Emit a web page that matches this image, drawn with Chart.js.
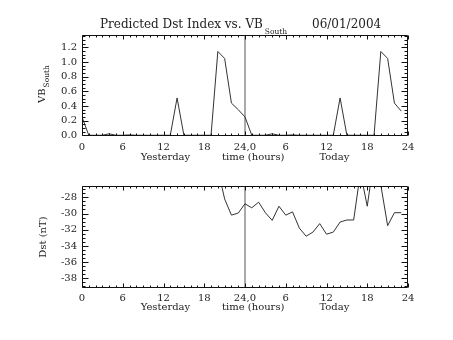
<!DOCTYPE html>
<html><head><meta charset="utf-8">
<script src="https://cdn.jsdelivr.net/npm/chart.js@4"></script>
<style>
html,body{margin:0;padding:0;background:#fff;}
#wrap{position:relative;width:453px;height:340px;overflow:hidden;}
canvas{position:absolute;left:0;}
</style></head><body>
<div id="wrap">
<canvas id="c1" width="453" height="170" style="top:0"></canvas>
<canvas id="c2" width="453" height="170" style="top:170px"></canvas>
</div>
<script>
// ---- data ----
const hours = [0,1,2,3,4,5,6,7,8,9,10,11,12,13,14,15,16,17,18,19,20,21,22,23,
               24,25,26,27,28,29,30,31,32,33,34,35,36,37,38,39,40,41,42,43,44,45,46,47];
const vbSouth = [0.25,0,0,0,0.02,0,0,0.005,0,0,0,0,0,0,0.51,0,0,0,0,0,1.145,1.05,0.44,0.35,
                 0.25,0,0,0,0.02,0,0,0.005,0,0,0,0,0,0,0.51,0,0,0,0,0,1.145,1.05,0.44,0.33];
const dst = [null,null,null,null,null,null,null,null,null,null,null,null,null,null,null,null,null,null,null,null,
             -24.5,-28.2,-30.2,-29.95,
             -28.8,-29.3,-28.6,-29.9,-30.85,-29.1,-30.2,-29.8,-31.8,-32.8,-32.3,-31.25,
             -32.55,-32.3,-31.05,-30.8,-30.8,-24.9,-29.1,-23.2,-26.5,-31.5,-29.9,-29.9];
const xTickValues = [0,6,12,18,24,30,36,42,48];
const xTickLabels = ['0','6','12','18','24,0','6','12','18','24'];
const vbTickValues = [0,0.2,0.4,0.6,0.8,1.0,1.2];
const vbTickLabels = ['0.0','0.2','0.4','0.6','0.8','1.0','1.2'];
const dstTickValues = [-38,-36,-34,-32,-30,-28];
const dstTickLabels = ['-38','-36','-34','-32','-30','-28'];
const markerHour = 24;
const vbRange = [-0.01, 1.37];
const dstRange = [-39.16, -26.64];
const titleMain = 'Predicted Dst Index vs. VB';
const titleSub = 'South';
const titleDate = '06/01/2004';
const xTitle = 'Yesterday          time (hours)           Today';
const vbTitle = 'VB';
const vbTitleSub = 'South';
const dstTitle = 'Dst (nT)';

// ---- styling ----
const FONT = 'DejaVu Serif';
const TXT = '#222';
const LINE = '#333';

function boxTicksPlugin(yMinorStep, yMajor) {
  return {
    id: 'boxTicks',
    afterDatasetsDraw(chart) {
      const {ctx, chartArea: a, scales: {x, y}} = chart;
      const L = Math.round(a.left) + 0.5, R = Math.round(a.right) - 0.5;
      const T = Math.round(a.top) + 0.5, B = Math.round(a.bottom) - 0.5;
      ctx.save();
      ctx.strokeStyle = '#111';
      ctx.lineWidth = 1;
      ctx.beginPath();
      ctx.rect(L, T, R - L, B - T);
      // x ticks, hourly minors, majors at labelled values
      for (let h = x.min; h <= x.max; h += 1) {
        const px = Math.round(x.getPixelForValue(h)) + 0.5;
        const len = xTickValues.includes(h) ? 4 : 2;
        ctx.moveTo(px, B); ctx.lineTo(px, B - len);
        ctx.moveTo(px, T); ctx.lineTo(px, T + len);
      }
      // y ticks
      const first = Math.ceil(y.min / yMinorStep - 1e-6);
      const last = Math.floor(y.max / yMinorStep + 1e-6);
      for (let k = first; k <= last; k++) {
        const v = k * yMinorStep;
        const py = Math.round(y.getPixelForValue(v)) + 0.5;
        const major = Math.abs(v / yMajor - Math.round(v / yMajor)) < 1e-6;
        const len = major ? 6 : 3;
        ctx.moveTo(L, py); ctx.lineTo(L + len, py);
        ctx.moveTo(R, py); ctx.lineTo(R - len, py);
      }
      ctx.stroke();
      ctx.restore();
    }
  };
}

const topText = {
  id: 'topText',
  afterDraw(chart) {
    const ctx = chart.ctx;
    ctx.save();
    ctx.fillStyle = TXT;
    ctx.textBaseline = 'alphabetic';
    ctx.textAlign = 'left';
    // main title with subscript
    let xx = 100;
    ctx.font = '12px "' + FONT + '"';
    ctx.fillText(titleMain, xx, 28);
    xx += ctx.measureText(titleMain).width + 2;
    ctx.font = '7.5px "' + FONT + '"';
    ctx.fillText(titleSub, xx, 34);
    ctx.font = '12px "' + FONT + '"';
    ctx.fillText(titleDate, 312, 28);
    // rotated y title with subscript
    ctx.translate(45, 103);
    ctx.rotate(-Math.PI / 2);
    ctx.font = '10px "' + FONT + '"';
    ctx.fillText(vbTitle, 0, 0);
    const w = ctx.measureText(vbTitle).width;
    ctx.font = '7.5px "' + FONT + '"';
    ctx.fillText(vbTitleSub, w + 1, 4);
    ctx.restore();
  }
};

function xScale(height) {
  return {
    type: 'linear', min: 0, max: 48,
    afterBuildTicks: s => { s.ticks = xTickValues.map(v => ({value: v})); },
    afterFit: s => { s.height = height; },
    ticks: {callback: (v, i) => xTickLabels[i], autoSkip: false, maxRotation: 0, minRotation: 0,
            padding: 5, color: TXT, font: {family: FONT, size: 10}},
    grid: {display: false, drawTicks: false},
    border: {display: false},
    title: {display: true, text: xTitle, padding: 0, color: TXT, font: {family: FONT, size: 10}}
  };
}

function yScale(range, vals, labels, title) {
  return {
    type: 'linear', min: range[0], max: range[1],
    afterBuildTicks: s => { s.ticks = vals.map(v => ({value: v})); },
    afterFit: s => { s.width = 45; },
    ticks: {callback: (v, i) => labels[i], autoSkip: false, padding: 5, color: TXT,
            font: {family: FONT, size: 10}},
    grid: {display: false, drawTicks: false},
    border: {display: false},
    title: title ? {display: true, text: title, padding: 0, color: TXT, font: {family: FONT, size: 10}} : {display: false}
  };
}

const common = {
  responsive: false, animation: false, devicePixelRatio: 1,
  plugins: {legend: {display: false}, tooltip: {enabled: false}, title: {display: false}},
  elements: {point: {radius: 0}, line: {tension: 0, borderWidth: 1}}
};

new Chart(document.getElementById('c1'), {
  type: 'line',
  data: {datasets: [
    {data: hours.map((h, i) => ({x: h, y: vbSouth[i]})), borderColor: LINE, borderWidth: 1, pointRadius: 0},
    {data: [{x: markerHour, y: vbRange[0]}, {x: markerHour, y: vbRange[1]}], borderColor: '#555', borderWidth: 1, pointRadius: 0}
  ]},
  options: Object.assign({}, common, {
    layout: {padding: {left: 37, right: 45, top: 35, bottom: 7}},
    scales: {x: xScale(27), y: yScale(vbRange, vbTickValues, vbTickLabels, null)}
  }),
  plugins: [boxTicksPlugin(0.05, 0.2), topText]
});

new Chart(document.getElementById('c2'), {
  type: 'line',
  data: {datasets: [
    {data: hours.map((h, i) => ({x: h, y: dst[i]})), borderColor: LINE, borderWidth: 1, pointRadius: 0, spanGaps: false},
    {data: [{x: markerHour, y: dstRange[0]}, {x: markerHour, y: dstRange[1]}], borderColor: '#555', borderWidth: 1, pointRadius: 0}
  ]},
  options: Object.assign({}, common, {
    layout: {padding: {left: 37, right: 45, top: 16.3, bottom: 26.3}},
    scales: {x: xScale(26), y: yScale(dstRange, dstTickValues, dstTickLabels, dstTitle)}
  }),
  plugins: [boxTicksPlugin(0.5, 2)]
});
</script>
</body></html>
